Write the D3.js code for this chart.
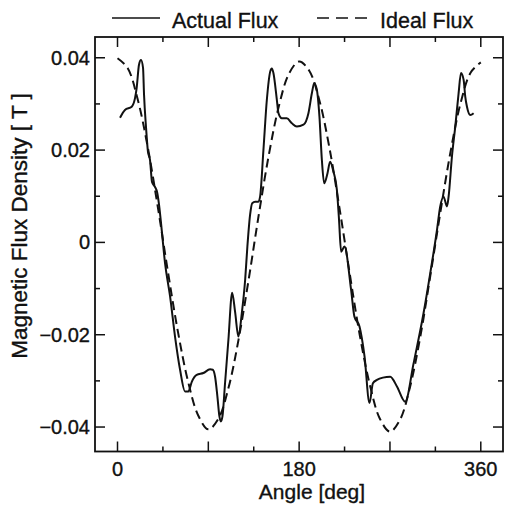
<!DOCTYPE html>
<html>
<head>
<meta charset="utf-8">
<script src="https://cdn.jsdelivr.net/npm/d3@7"></script>
<style>
  body { margin: 0; background: #fff; }
  text { font-family: "Liberation Sans", Arial, Helvetica, sans-serif; fill: #111; stroke: #111; stroke-width: 0.35px; }
</style>
</head>
<body>
<svg id="chart" width="505" height="508"></svg>
<script>
// values
var actualDeg = [2.5, 7.4, 14.1, 17.4, 19.0, 21.3, 23.3, 25.3, 26.3, 28.3, 30.2, 32.2, 34.2, 37.2, 39.2, 41.2,
  43.8, 47.1, 52.1, 57.0, 62.0, 66.9, 70.2, 73.6, 78.5, 85.1, 91.7, 94.4, 96.7, 99.0, 101.0, 102.4, 104.0,
  106.6, 109.9, 113.6, 116.5, 119.8, 123.2, 126.5, 128.7, 131.4, 133.5, 136.4, 139.6, 141.3, 144.6, 148.0,
  151.3, 152.9, 154.5, 157.9, 159.5, 162.8, 167.8, 172.8, 177.7, 184.3, 189.2, 192.6, 194.9, 197.6, 200.1,
  202.5, 204.8, 208.1, 210.7, 214.0, 217.4, 219.5, 221.6, 224.9, 231.5, 234.8, 239.8, 244.8, 249.7, 253.1,
  257.1, 263.0, 270.3, 276.9, 285.1, 293.4, 303.3, 309.9, 316.6, 319.8, 323.1, 326.5, 328.1, 331.4, 334.7,
  338.0, 340.4, 343.0, 344.6, 346.3, 349.6, 352.9]
var actualB = [0.0270, 0.0287, 0.0294, 0.0313, 0.0335, 0.0385, 0.0395, 0.0378, 0.0320, 0.0248, 0.0196, 0.0179, 0.0131, 0.0120, 0.0109, 0.0081,
  0.0027, -0.0045, -0.0117, -0.0204, -0.0276, -0.0323, -0.0323, -0.0302, -0.0287, -0.0283, -0.0275, -0.0276, -0.0291, -0.0334, -0.0377, -0.0388, -0.0377,
  -0.0304, -0.0211, -0.0109, -0.0150, -0.0204, -0.0153, -0.0081, -0.0009, 0.0060, 0.0085, 0.0088, 0.0088, 0.0099, 0.0200, 0.0309,
  0.0370, 0.0377, 0.0367, 0.0309, 0.0280, 0.0269, 0.0269, 0.0258, 0.0251, 0.0255, 0.0280, 0.0323, 0.0345, 0.0330, 0.0273,
  0.0179, 0.0128, 0.0150, 0.0175, 0.0153, 0.0114, 0.0050, -0.0020, -0.0009, -0.0103, -0.0161, -0.0182, -0.0247, -0.0348, -0.0305,
  -0.0298, -0.0293, -0.0291, -0.0312, -0.0345, -0.0262, -0.0153, -0.0067, 0.0027, 0.0078, 0.0099, 0.0078, 0.0099, 0.0186, 0.0251,
  0.0323, 0.0367, 0.0352, 0.0316, 0.0294, 0.0276, 0.0280]

var idealDeg = [0, 10, 20, 30, 40, 50, 60, 70, 80, 90, 100, 110, 120, 130, 140, 150, 160, 170, 180,
  190, 200, 210, 220, 230, 240, 250, 260, 270, 280, 290, 300, 310, 320, 330, 340, 350, 360]
var idealB = [0.0399, 0.0378, 0.0310, 0.0206, 0.0076, -0.0064, -0.0195, -0.0302, -0.0375, -0.0405, -0.0382, -0.0315, -0.0210, -0.0080, 0.0060, 0.0190, 0.0296, 0.0366, 0.0392,
  0.0372, 0.0308, 0.0205, 0.0074, -0.0066, -0.0200, -0.0308, -0.0382, -0.0410, -0.0384, -0.0312, -0.0205, -0.0072, 0.0066, 0.0196, 0.0302, 0.0368, 0.0390]

var xMajor = [0, 90, 180, 270, 360]
var xMinor = [45, 135, 225, 315]
var xLabels = [0, 180, 360]
var yMajor = [-0.04, -0.02, 0, 0.02, 0.04]
var yMinor = [-0.03, -0.01, 0.01, 0.03]

var svg = d3.select('#chart')

var x = d3.scaleLinear().domain([-22.3, 383]).range([95, 504])
var y = d3.scaleLinear().domain([-0.0453, 0.0445]).range([451.5, 37])

var actual = actualDeg.map(function(d, i){ return [d, actualB[i]] })
var ideal = idealDeg.map(function(d, i){ return [d, idealB[i]] })

var xLeft = x.range()[0], xRight = x.range()[1] - 1
var yTop = y.range()[1], yBottom = y.range()[0]

// frame
svg.append('rect')
  .attr('x', xLeft).attr('y', yTop)
  .attr('width', xRight - xLeft).attr('height', yBottom - yTop)
  .attr('fill', 'none').attr('stroke', '#111').attr('stroke-width', 1.8)

// ticks, inward on all four sides
var tickG = svg.append('g').attr('stroke', '#111').attr('stroke-width', 1.5)
function xTicks(vals, len){
  vals.forEach(function(v){
    tickG.append('line').attr('x1', x(v)).attr('x2', x(v)).attr('y1', yBottom).attr('y2', yBottom - len)
    tickG.append('line').attr('x1', x(v)).attr('x2', x(v)).attr('y1', yTop).attr('y2', yTop + len)
  })
}
function yTicks(vals, len){
  vals.forEach(function(v){
    tickG.append('line').attr('x1', xLeft).attr('x2', xLeft + len).attr('y1', y(v)).attr('y2', y(v))
    tickG.append('line').attr('x1', xRight).attr('x2', xRight - len).attr('y1', y(v)).attr('y2', y(v))
  })
}
xTicks(xMajor, 10)
xTicks(xMinor, 5)
yTicks(yMajor, 10)
yTicks(yMinor, 5)

// tick labels
svg.append('g').selectAll('text').data(xLabels).enter().append('text')
  .attr('x', function(d){ return x(d) })
  .attr('y', 476)
  .attr('text-anchor', 'middle')
  .attr('font-size', 20)
  .text(function(d){ return d })

var fmt = function(d){ return d == 0 ? '0' : d.toFixed(2).replace('-', '\u2212') }
svg.append('g').selectAll('text').data(yMajor).enter().append('text')
  .attr('x', 90)
  .attr('y', function(d){ return y(d) + 7 })
  .attr('text-anchor', 'end')
  .attr('font-size', 20)
  .text(fmt)

// axis titles
svg.append('text')
  .attr('x', 312).attr('y', 499)
  .attr('text-anchor', 'middle')
  .attr('font-size', 21)
  .text('Angle [deg]')

svg.append('text')
  .attr('transform', 'translate(27,226) rotate(-90)')
  .attr('text-anchor', 'middle')
  .attr('font-size', 22.5)
  .text('Magnetic Flux Density [ T ]')

// curves
var line = d3.line()
  .x(function(d){ return x(d[0]) })
  .y(function(d){ return y(d[1]) })

svg.append('path')
  .datum(ideal)
  .attr('d', line.curve(d3.curveCatmullRom))
  .attr('fill', 'none').attr('stroke', '#111').attr('stroke-width', 2)
  .attr('stroke-dasharray', '9,5')

svg.append('path')
  .datum(actual)
  .attr('d', line.curve(d3.curveMonotoneX))
  .attr('fill', 'none').attr('stroke', '#111').attr('stroke-width', 2)

// legend
var leg = svg.append('g')
leg.append('line').attr('x1', 112).attr('x2', 160).attr('y1', 18).attr('y2', 18)
  .attr('stroke', '#111').attr('stroke-width', 1.6)
leg.append('text').attr('x', 172).attr('y', 28).attr('font-size', 21.5).text('Actual Flux')
leg.append('line').attr('x1', 317).attr('x2', 367).attr('y1', 18).attr('y2', 18)
  .attr('stroke', '#111').attr('stroke-width', 1.6).attr('stroke-dasharray', '12,7')
leg.append('text').attr('x', 380).attr('y', 28).attr('font-size', 21.5).text('Ideal Flux')
</script>
</body>
</html>
